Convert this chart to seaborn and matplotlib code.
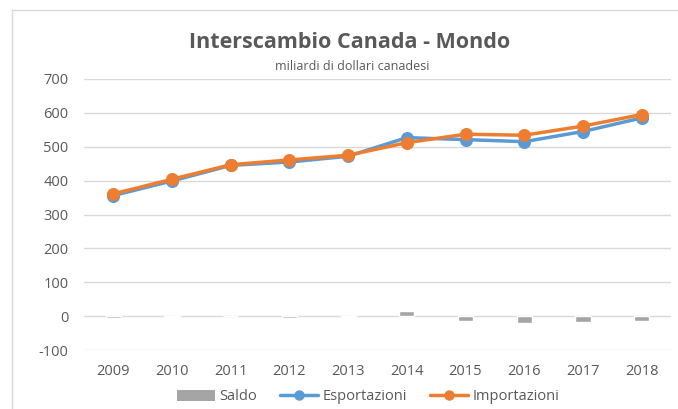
import matplotlib
matplotlib.use("Agg")
import matplotlib.pyplot as plt
import pandas as pd
import seaborn as sns
from matplotlib.lines import Line2D
from matplotlib.patches import Patch

# data (miliardi di dollari canadesi)
YEARS = ["2009", "2010", "2011", "2012", "2013", "2014", "2015", "2016", "2017", "2018"]
ESPORTAZIONI = [356, 399, 445, 455, 472, 527, 521, 515, 545, 585]
IMPORTAZIONI = [361, 404, 447, 461, 475, 512, 537, 534, 561, 595]
SALDO = [-5, -2, 0, -5, -2, 14, -13, -19, -16, -13]

BLUE = "#5B9BD5"
ORANGE = "#ED7D31"
GREY = "#A5A5A5"
TEXT = "#595959"

df = pd.DataFrame({"Anno": YEARS, "Esportazioni": ESPORTAZIONI,
                   "Importazioni": IMPORTAZIONI, "Saldo": SALDO})

sns.set_style("white")
plt.rcParams["font.family"] = ["Open Sans", "DejaVu Sans"]
plt.rcParams["axes.unicode_minus"] = False

fig = plt.figure(figsize=(6.78, 4.09), dpi=100)
ax = fig.add_axes([84 / 678, 59 / 409, 587 / 678, 271 / 409])

sns.barplot(data=df, x="Anno", y="Saldo", color=GREY, saturation=1,
            width=0.26, ax=ax, zorder=2)
sns.pointplot(data=df, x="Anno", y="Esportazioni", color=BLUE, markers="o",
              markersize=7.5, linewidth=2.5, ax=ax, zorder=3)
sns.pointplot(data=df, x="Anno", y="Importazioni", color=ORANGE, markers="o",
              markersize=7.5, linewidth=2.5, ax=ax, zorder=4)

ax.set_ylim(-100, 700)
ax.set_xlim(-0.5, len(YEARS) - 0.5)
ax.set_yticks(range(-100, 701, 100))
ax.set_xlabel("")
ax.set_ylabel("")
ax.grid(axis="y", color="#D9D9D9", linewidth=1)
ax.set_axisbelow(True)
for s in ax.spines.values():
    s.set_visible(False)
ax.tick_params(axis="both", length=0, labelsize=10.5, labelcolor=TEXT)
ax.tick_params(axis="y", pad=11)
ax.tick_params(axis="x", pad=10)

fig.text(350 / 678, 1 - 43 / 409, "Interscambio Canada - Mondo", ha="center",
         va="center", fontsize=15.5, fontweight="bold", color=TEXT)
fig.text(352 / 678, 1 - 66 / 409, "miliardi di dollari canadesi", ha="center",
         va="center", fontsize=9, color=TEXT)

handles = [Patch(facecolor=GREY, edgecolor="none"),
           Line2D([], [], color=BLUE, linewidth=2.5, marker="o", markersize=6.5),
           Line2D([], [], color=ORANGE, linewidth=2.5, marker="o", markersize=6.5)]
fig.legend(handles, ["Saldo", "Esportazioni", "Importazioni"], loc="center",
           bbox_to_anchor=(368 / 678, 1 - 397 / 409), ncol=3, frameon=False,
           fontsize=10.5, labelcolor=TEXT, handlelength=2.6, handletextpad=0.3,
           columnspacing=1.6)

# chart frame (left and top edges visible)
fig.add_artist(Line2D([12 / 678, 12 / 678], [0, 1 - 10 / 409], color="#D9D9D9",
                      linewidth=1, transform=fig.transFigure))
fig.add_artist(Line2D([12 / 678, 1], [1 - 10 / 409, 1 - 10 / 409], color="#D9D9D9",
                      linewidth=1, transform=fig.transFigure))

fig.savefig("out.png", dpi=100)
